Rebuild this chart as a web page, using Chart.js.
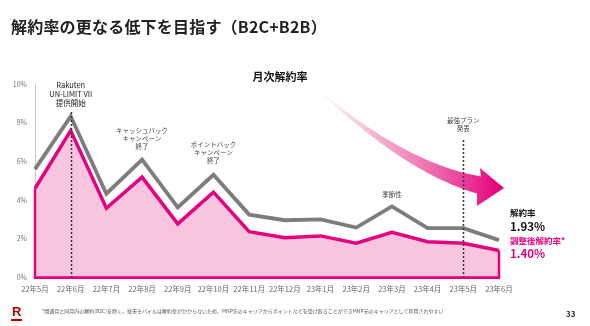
<!DOCTYPE html>
<html lang="ja">
<head>
<meta charset="utf-8">
<script src="https://cdn.jsdelivr.net/npm/chart.js@4"></script>
<style>
  html,body{margin:0;padding:0;background:#fff;}
  #wrap{position:relative;width:590px;height:326px;overflow:hidden;font-family:"Noto Sans CJK JP","Noto Sans",sans-serif;}
  #c{position:absolute;left:0;top:0;}
  .title{position:absolute;left:11px;top:14px;font-size:16px;font-weight:bold;color:#222;white-space:nowrap;letter-spacing:0.2px;}
  .note{position:absolute;left:42px;top:307px;font-size:5px;color:#555;white-space:nowrap;}
  .page{position:absolute;left:566px;top:308px;font-size:8px;font-weight:bold;color:#333;}
  .logo{position:absolute;left:12px;top:305px;font-size:13px;font-weight:bold;color:#bf0000;font-family:"Liberation Sans",sans-serif;line-height:13px;}
  .logo i{display:block;width:11px;height:1.5px;background:#bf0000;margin-top:1px;margin-left:-1px;}
</style>
</head>
<body>
<div id="wrap">
  <canvas id="c" width="590" height="326"></canvas>
  <div class="title">解約率の更なる低下を目指す（B2C+B2B）</div>
  <div class="logo">R<i></i></div>
  <div class="note">*開通月と同月内の解約(B2C)を除く。楽天モバイルは解約金がかからないため、MNP先のキャリアからポイントなどを受け取ることができMNP元のキャリアとして利用されやすい</div>
  <div class="page">33</div>
</div>
<script>
const categories = ['22年5月','22年6月','22年7月','22年8月','22年9月','22年10月','22年11月','22年12月','23年1月','23年2月','23年3月','23年4月','23年5月','23年6月'];
const churnRate = [5.6, 8.33, 4.33, 6.09, 3.62, 5.31, 3.25, 2.96, 3.0, 2.58, 3.67, 2.55, 2.55, 1.93];
const adjustedChurnRate = [4.6, 7.59, 3.58, 5.19, 2.77, 4.41, 2.37, 2.06, 2.15, 1.77, 2.34, 1.85, 1.77, 1.40];
const yTicks = [0, 2, 4, 6, 8, 10];
const seriesNames = ['解約率', '調整後解約率*'];

const PINK = '#e4007f';
const GRAY = '#7d7d7d';
const JP = '"Noto Sans CJK JP","Noto Sans",sans-serif';

const decor = {
  id: 'decor',
  beforeDatasetsDraw(chart) {
    const {ctx} = chart;
    // curved gradient arrow
    const P0 = {x: 315, y: 87}, P1 = {x: 405, y: 168}, P2 = {x: 479, y: 185};
    const pt = t => ({
      x: (1-t)*(1-t)*P0.x + 2*(1-t)*t*P1.x + t*t*P2.x,
      y: (1-t)*(1-t)*P0.y + 2*(1-t)*t*P1.y + t*t*P2.y
    });
    const tan = t => {
      const dx = 2*(1-t)*(P1.x-P0.x) + 2*t*(P2.x-P1.x);
      const dy = 2*(1-t)*(P1.y-P0.y) + 2*t*(P2.y-P1.y);
      const l = Math.hypot(dx, dy); return {x: dx/l, y: dy/l};
    };
    const up = [], dn = [];
    const N = 60;
    for (let i = 0; i <= N; i++) {
      const t = i / N, p = pt(t), d = tan(t);
      const w = 0.3 + 8.5 * Math.pow(t, 1.1);
      up.push({x: p.x + d.y * w, y: p.y - d.x * w});
      dn.push({x: p.x - d.y * w, y: p.y + d.x * w});
    }
    const g = ctx.createLinearGradient(315, 0, 500, 0);
    g.addColorStop(0, 'rgba(240,170,200,0)');
    g.addColorStop(0.35, 'rgba(238,150,188,0.75)');
    g.addColorStop(1, '#e6007e');
    ctx.save();
    ctx.fillStyle = g;
    ctx.beginPath();
    up.forEach((p, i) => i ? ctx.lineTo(p.x, p.y) : ctx.moveTo(p.x, p.y));
    ctx.lineTo(480, 168);
    ctx.lineTo(504, 188);
    ctx.lineTo(477, 206);
    for (let i = dn.length - 1; i >= 0; i--) ctx.lineTo(dn[i].x, dn[i].y);
    ctx.closePath();
    ctx.fill();
    ctx.restore();
  },
  afterDatasetsDraw(chart) {
    const {ctx, scales:{x, y}} = chart;
    const n = categories.length;
    const x0 = x.getPixelForValue(0), xn = x.getPixelForValue(n-1), yb = y.getPixelForValue(0);
    ctx.save();
    ctx.strokeStyle = PINK; ctx.lineWidth = 2.5;
    ctx.beginPath();
    ctx.moveTo(x0, y.getPixelForValue(adjustedChurnRate[0]));
    ctx.lineTo(x0, yb); ctx.lineTo(xn, yb);
    ctx.lineTo(xn, y.getPixelForValue(adjustedChurnRate[n-1]));
    ctx.stroke();
    ctx.strokeStyle = '#333'; ctx.lineWidth = 1.5; ctx.setLineDash([2, 2]);
    [[1, 112], [12, 140]].forEach(([i, top]) => {
      const px = Math.round(x.getPixelForValue(i)) + 0.5;
      ctx.beginPath(); ctx.moveTo(px, top); ctx.lineTo(px, yb); ctx.stroke();
    });
    ctx.setLineDash([]);
    ctx.textAlign = 'center'; ctx.textBaseline = 'middle';
    const notes = [
      {i: 1, ys: [85, 94, 103], lines: ['Rakuten', 'UN-LIMIT VII', '提供開始'], size: 7.5, color: '#222'},
      {i: 3, ys: [131, 139, 147], lines: ['キャッシュバック', 'キャンペーン', '終了'], size: 6.5, color: '#444'},
      {i: 5, ys: [145, 153, 161], lines: ['ポイントバック', 'キャンペーン', '終了'], size: 6.5, color: '#444'},
      {i: 10, ys: [195], lines: ['季節性'], size: 6.5, color: '#444'},
      {i: 12, ys: [121, 129], lines: ['最強プラン', '発表'], size: 6.5, color: '#444'}
    ];
    notes.forEach(nt => {
      ctx.fillStyle = nt.color;
      ctx.font = `${nt.size}px ${JP}`;
      const cx = x.getPixelForValue(nt.i);
      nt.lines.forEach((s, k) => ctx.fillText(s, cx, nt.ys[k]));
    });
    ctx.fillStyle = '#111';
    ctx.font = `bold 11px ${JP}`;
    ctx.fillText('月次解約率', 280, 77);
    ctx.textAlign = 'left';
    const lx = 510;
    ctx.fillStyle = '#111';
    ctx.font = `bold 8.5px ${JP}`;
    ctx.fillText(seriesNames[0], lx, 213);
    ctx.font = `bold 11.5px ${JP}`;
    ctx.fillText(churnRate[n-1].toFixed(2) + '%', lx, 227);
    ctx.fillStyle = PINK;
    ctx.font = `bold 8.5px ${JP}`;
    ctx.fillText(seriesNames[1], lx, 241);
    ctx.font = `bold 11.5px ${JP}`;
    ctx.fillText(adjustedChurnRate[n-1].toFixed(2) + '%', lx, 254);
    ctx.restore();
  }
};

new Chart(document.getElementById('c'), {
  type: 'line',
  data: {
    labels: categories,
    datasets: [
      {
        label: seriesNames[0], data: churnRate,
        borderColor: GRAY, borderWidth: 3.8, borderJoinStyle: 'miter',
        pointRadius: 0, tension: 0, fill: false
      },
      {
        label: seriesNames[1], data: adjustedChurnRate,
        borderColor: PINK, borderWidth: 3.5, borderJoinStyle: 'miter',
        backgroundColor: '#f7c5de', pointRadius: 0, tension: 0, fill: 'origin'
      }
    ]
  },
  options: {
    responsive: false,
    animation: false,
    devicePixelRatio: 1,
    layout: {padding: {left: 0, right: 91, top: 84, bottom: 28.5}},
    plugins: {legend: {display: false}, tooltip: {enabled: false}},
    scales: {
      x: {
        offset: false,
        grid: {display: false, drawTicks: false},
        border: {display: true, color: PINK, width: 2},
        ticks: {color: '#666', font: {size: 7.5, family: JP}, padding: 7, maxRotation: 0, autoSkip: false},
        afterFit(s) { s.height = 20; }
      },
      y: {
        min: 0, max: 10,
        afterBuildTicks(s) { s.ticks = yTicks.map(v => ({value: v})); },
        grid: {display: false, drawTicks: false},
        border: {display: true, color: '#c8c8c8', width: 1},
        ticks: {color: '#777', font: {size: 7, family: JP}, padding: 8, callback: v => v + '%'},
        afterFit(s) { s.width = 35; }
      }
    }
  },
  plugins: [decor]
});
</script>
</body>
</html>
